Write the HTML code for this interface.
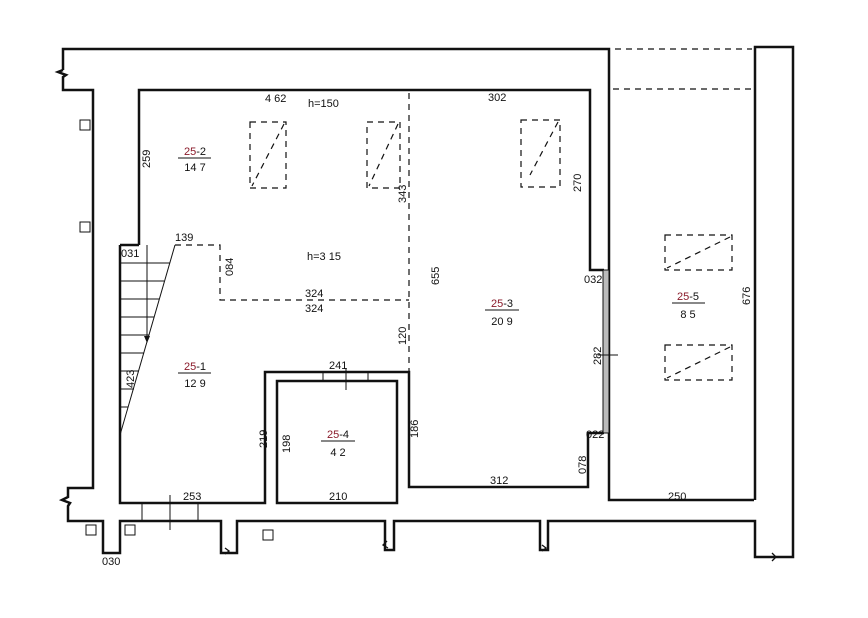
<!DOCTYPE html>
<html><head><meta charset="utf-8"><style>html,body{margin:0;padding:0;background:#fff}svg{display:block}text{font-family:"Liberation Sans",sans-serif;font-size:11px;fill:#111}.r{fill:#8a1a2a}</style></head><body>
<svg width="868" height="618" viewBox="0 0 868 618" xmlns="http://www.w3.org/2000/svg">
<g fill="none" stroke="#111" stroke-width="2.5" stroke-linejoin="miter">
<polyline points="63,70 63,49 609,49 609,500 754,500"/>
<polyline points="63,70 58,72 66,75 63,77 63,90 93,90 93,488 68,488 68,497 62,500 70,503 68,506 68,521 103,521 103,553 120,553 120,521 221,521 221,553 237,553 237,521 385,521 385,550 394,550 394,521 540,521 540,550 548,550 548,521 755,521 755,557 793,557 793,47 755,47 755,500"/>
<polyline points="139,245 139,90 590,90 590,270 604,270"/>
<polyline points="120,245 139,245"/>
<polyline points="120,245 120,503 265,503 265,372 409,372 409,487 588,487 588,433 604,433"/>
<rect x="277" y="381" width="120" height="122"/>
</g>
<g stroke="#111" stroke-width="1.3" fill="none">
<polyline points="225,548 229,551 225,554"/><polyline points="387,541 383,545 388,548"/><polyline points="542,545 546,548 542,551"/><polyline points="772,553 776,557 772,561"/>
</g>
<rect x="603" y="270" width="6" height="163" fill="#bbb" stroke="#111" stroke-width="1"/>
<line x1="598" y1="355" x2="618" y2="355" stroke="#111" stroke-width="1"/>
<g stroke="#111" stroke-width="1" fill="none">
<line x1="323" y1="372" x2="323" y2="381"/><line x1="368" y1="372" x2="368" y2="381"/><line x1="346" y1="368" x2="346" y2="390"/>
<line x1="142" y1="503" x2="142" y2="521"/><line x1="198" y1="503" x2="198" y2="521"/><line x1="170" y1="495" x2="170" y2="530"/>
<line x1="175" y1="245" x2="120" y2="435"/>
<line x1="147" y1="245" x2="147" y2="340"/>
<line x1="120" y1="263" x2="170" y2="263"/><line x1="120" y1="281" x2="164" y2="281"/><line x1="120" y1="299" x2="159" y2="299"/><line x1="120" y1="317" x2="154" y2="317"/><line x1="120" y1="335" x2="149" y2="335"/><line x1="120" y1="353" x2="144" y2="353"/><line x1="120" y1="371" x2="139" y2="371"/><line x1="120" y1="389" x2="134" y2="389"/><line x1="120" y1="407" x2="128" y2="407"/>
<rect x="80" y="120" width="10" height="10"/><rect x="80" y="222" width="10" height="10"/><rect x="86" y="525" width="10" height="10"/><rect x="125" y="525" width="10" height="10"/><rect x="263" y="530" width="10" height="10"/>
</g>
<polygon points="144,336 150,336 147,343" fill="#111"/>
<g stroke="#111" stroke-width="1.2" fill="none" stroke-dasharray="6,5">
<polyline points="175,245 220,245 220,300 409,300"/>
<line x1="409" y1="93" x2="409" y2="372"/>
<line x1="615" y1="49" x2="752" y2="49"/><line x1="613" y1="89" x2="752" y2="89"/>
<rect x="250" y="122" width="36" height="66"/><line x1="284" y1="124" x2="252" y2="186"/>
<rect x="367" y="122" width="33" height="66"/><line x1="398" y1="124" x2="369" y2="186"/>
<rect x="521" y="120" width="39" height="67"/><line x1="558" y1="122" x2="530" y2="175"/>
<rect x="665" y="235" width="67" height="35"/><line x1="730" y1="237" x2="667" y2="268"/>
<rect x="665" y="345" width="67" height="35"/><line x1="730" y1="347" x2="667" y2="378"/>
</g>
<text x="265" y="102">4 62</text><text x="308" y="107" font-size="12">h=150</text><text x="488" y="101">302</text>
<text x="307" y="260" font-size="12">h=3 15</text>
<text x="175" y="241">139</text><text x="121" y="257" font-size="10">031</text>
<text x="305" y="297">324</text><text x="305" y="312">324</text>
<text x="329" y="369">241</text><text x="183" y="500">253</text><text x="329" y="500">210</text><text x="490" y="484">312</text><text x="668" y="500">250</text><text x="102" y="565" font-size="10">030</text>
<text x="584" y="283" font-size="10">032</text><text x="586" y="438" font-size="10">022</text>
<g font-size="11">
<text transform="translate(150,168) rotate(-90)">259</text>
<text transform="translate(233,276) rotate(-90)">084</text>
<text transform="translate(406,203) rotate(-90)">343</text>
<text transform="translate(439,285) rotate(-90)">655</text>
<text transform="translate(406,345) rotate(-90)">120</text>
<text transform="translate(581,192) rotate(-90)">270</text>
<text transform="translate(601,365) rotate(-90)">282</text>
<text transform="translate(586,474) rotate(-90)">078</text>
<text transform="translate(750,305) rotate(-90)">676</text>
<text transform="translate(134,388) rotate(-90)">423</text>
<text transform="translate(267,448) rotate(-90)">219</text>
<text transform="translate(290,453) rotate(-90)">198</text>
<text transform="translate(418,438) rotate(-90)">186</text>
</g>
<g font-size="13" text-anchor="middle" stroke="none">
<text x="195" y="155"><tspan class="r">25</tspan>-2</text><line x1="178" y1="158" x2="211" y2="158" stroke="#111"/><text x="195" y="171">14 7</text>
<text x="195" y="370"><tspan class="r">25</tspan>-1</text><line x1="178" y1="373" x2="211" y2="373" stroke="#111"/><text x="195" y="387">12 9</text>
<text x="338" y="438"><tspan class="r">25</tspan>-4</text><line x1="321" y1="441" x2="355" y2="441" stroke="#111"/><text x="338" y="456">4 2</text>
<text x="502" y="307"><tspan class="r">25</tspan>-3</text><line x1="485" y1="310" x2="519" y2="310" stroke="#111"/><text x="502" y="325">20 9</text>
<text x="688" y="300"><tspan class="r">25</tspan>-5</text><line x1="672" y1="303" x2="705" y2="303" stroke="#111"/><text x="688" y="318">8 5</text>
</g>
</svg>
</body></html>
